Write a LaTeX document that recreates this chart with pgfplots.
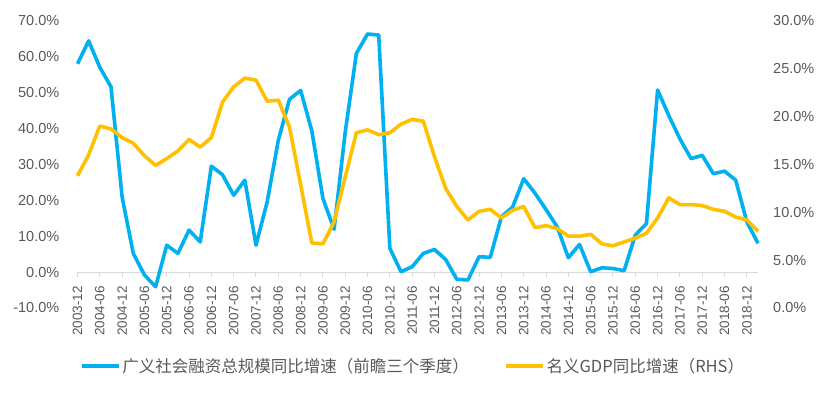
\documentclass[border=0pt]{standalone}
\usepackage{pgfplots}
\pgfplotsset{compat=1.18}
\usepackage{fontspec}
\setmainfont{Liberation Sans}
\newfontfamily\cjk{Noto Sans CJK SC}
\definecolor{sblue}{HTML}{00B0F0}
\definecolor{sorange}{HTML}{FFC000}
\definecolor{txtgray}{HTML}{595959}
\definecolor{axgray}{HTML}{D9D9D9}
\pgfplotstableread{
i v
0 58.0
1 64.4
2 57.0
3 51.6
4 20.9
5 5.2
6 -0.8
7 -4.1
8 7.5
9 5.2
10 11.7
11 8.4
12 29.5
13 27.1
14 21.4
15 25.6
16 7.5
17 19.5
18 36.7
19 48.1
20 50.6
21 39.4
22 20.5
23 11.9
24 39.0
25 60.9
26 66.3
27 66.0
28 6.6
29 0.1
30 1.5
31 5.2
32 6.3
33 3.5
34 -2.0
35 -2.2
36 4.3
37 4.1
38 15.4
39 18.1
40 26.0
41 22.0
42 17.4
43 12.6
44 4.0
45 7.7
46 0.1
47 1.2
48 1.0
49 0.4
50 10.3
51 13.5
52 50.7
53 43.6
54 37.1
55 31.6
56 32.5
57 27.4
58 28.1
59 25.6
60 14.0
61 8.0
}\tsf
\pgfplotstableread{
i v
0 13.8
1 16.0
2 19.0
3 18.7
4 17.8
5 17.2
6 15.9
7 14.9
8 15.6
9 16.4
10 17.6
11 16.8
12 17.8
13 21.5
14 23.1
15 24.0
16 23.8
17 21.6
18 21.7
19 18.9
20 12.9
21 6.8
22 6.7
23 9.0
24 13.7
25 18.3
26 18.6
27 18.1
28 18.3
29 19.2
30 19.7
31 19.5
32 15.8
33 12.5
34 10.6
35 9.2
36 10.1
37 10.3
38 9.4
39 10.2
40 10.6
41 8.4
42 8.6
43 8.3
44 7.5
45 7.5
46 7.7
47 6.7
48 6.5
49 6.9
50 7.3
51 7.8
52 9.4
53 11.5
54 10.8
55 10.8
56 10.7
57 10.3
58 10.1
59 9.5
60 9.2
61 8.0
}\gdp
\begin{document}
\begin{tikzpicture}
\path[use as bounding box] (0,0) rectangle (832pt,392pt);
\begin{axis}[
  at={(77.5pt,84pt)}, anchor=south west,
  scale only axis, width=680.5pt, height=287.3pt,
  xmin=0, xmax=61, ymin=-10, ymax=70,
  axis x line*=middle, axis y line*=left,
  hide obscured x ticks=false, hide obscured y ticks=false,
  x axis line style={draw=axgray, line width=1pt},
  y axis line style={draw=none},
  xtick={0,2,...,60},
  xticklabels={2003-12,2004-06,2004-12,2005-06,2005-12,2006-06,2006-12,2007-06,2007-12,2008-06,2008-12,2009-06,2009-12,2010-06,2010-12,2011-06,2011-12,2012-06,2012-12,2013-06,2013-12,2014-06,2014-12,2015-06,2015-12,2016-06,2016-12,2017-06,2017-12,2018-06,2018-12},
  tick align=outside,
  xtick style={draw=axgray, line width=1pt},
  major tick length=5pt,
  xticklabel style={rotate=90, anchor=east, inner xsep=9pt, inner ysep=0pt, font=\fontsize{13.5}{15}\selectfont, text=txtgray},
  ytick={-10,0,...,70},
  ytick style={draw=none},
  yticklabel={\pgfmathprintnumber[fixed,fixed zerofill,precision=1]{\tick}\%},
  yticklabel style={anchor=east, inner xsep=13pt, inner ysep=0pt, font=\fontsize{14.5}{16}\selectfont, text=txtgray},
  /pgf/number format/assume math mode=true,
  clip=false,
]
\addplot[sblue, line width=3.6pt, line join=round, no markers] table[x=i,y=v]{\tsf};
\end{axis}
\begin{axis}[
  at={(77.5pt,84pt)}, anchor=south west,
  scale only axis, width=680.5pt, height=287.3pt,
  xmin=0, xmax=61, ymin=0, ymax=30,
  axis x line=none, axis y line*=right,
  y axis line style={draw=none},
  ytick={0,5,...,30},
  ytick style={draw=none},
  yticklabel={\pgfmathprintnumber[fixed,fixed zerofill,precision=1]{\tick}\%},
  yticklabel style={anchor=west, inner xsep=15pt, inner ysep=0pt, font=\fontsize{14.5}{16}\selectfont, text=txtgray},
  /pgf/number format/assume math mode=true,
  legend style={at={(0.493,-0.202)}, anchor=center, draw=none, fill=none,
    font=\cjk\fontsize{16.5}{18}\selectfont, text=txtgray, legend columns=2,
    /tikz/every even column/.append style={column sep=33pt}},
  legend image code/.code={\draw[#1] (0pt,0pt) -- (37pt,0pt);},
  clip=false,
]
\addlegendimage{sblue, line width=3.6pt}
\addlegendentry{广义社会融资总规模同比增速（前瞻三个季度）}
\addplot[sorange, line width=3.6pt, line join=round, no markers] table[x=i,y=v]{\gdp};
\addlegendentry{名义GDP同比增速（RHS）}
\end{axis}
\end{tikzpicture}
\end{document}
